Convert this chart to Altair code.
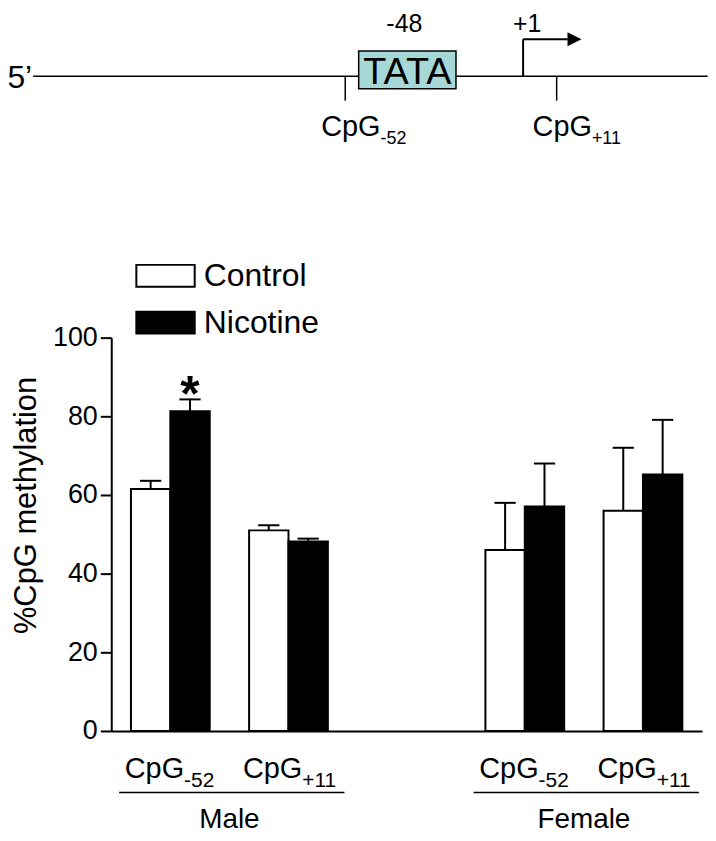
import altair as alt
import pandas as pd

# ---------------- data ----------------
sexes = ["Male", "Female"]
sites = ["-52", "+11"]
treatments = ["Control", "Nicotine"]
# order: Male -52 (C, N), Male +11 (C, N), Female -52 (C, N), Female +11 (C, N)
means = [61.5, 81.3, 51.0, 48.2, 46.0, 57.1, 56.0, 65.2]
errors = [2.1, 3.0, 1.3, 0.7, 12.0, 10.9, 16.0, 13.9]
signif = ["", "*", "", "", "", "", "", ""]

# promoter diagram (positions in bp relative to transcription start)
cpg_sites = [-52, 11]
cpg_subs = ["-52", "+11"]
tata_start, tata_end = -48, -19
tss = 1
tss_label = "+1"
tata_label = "-48"
seq_start, seq_end = -145, 56

FONT = "Liberation Sans"

# ---------------- layout helpers ----------------
W, H = 593.3, 395
SEX_STEP, SITE_STEP, LEFT = 9, 3, 0.5

rows = []
i = 0
for si, sex in enumerate(sexes):
    for ci, site in enumerate(sites):
        for ti, tr in enumerate(treatments):
            x0 = LEFT + si * SEX_STEP + ci * SITE_STEP + ti
            rows.append(dict(sex=sex, site=site, treatment=tr, mean=means[i],
                             top=means[i] + errors[i], x0=x0, x1=x0 + 1,
                             xc=x0 + 0.5, cap0=x0 + 0.5 - 0.27, cap1=x0 + 0.5 + 0.27,
                             mark=signif[i]))
            i += 1
df = pd.DataFrame(rows)

lab_rows = []
for si, sex in enumerate(sexes):
    for ci, site in enumerate(sites):
        c = LEFT + si * SEX_STEP + ci * SITE_STEP + 1.0
        lab_rows.append(dict(split=c + 0.35, main="CpG", sub=site))
labs = pd.DataFrame(lab_rows)

sex_rows = []
for si, sex in enumerate(sexes):
    s = LEFT + si * SEX_STEP
    sex_rows.append(dict(sex=sex, u0=s - 0.3, u1=s + 5.42, c=s + 2.5))
sexdf = pd.DataFrame(sex_rows)

xs = alt.Scale(domain=[0, 15], nice=False, zero=False)
ys = alt.Scale(domain=[0, 100], nice=False)

bars = alt.Chart(df).mark_rect(stroke="black", strokeWidth=2).encode(
    x=alt.X("x0:Q", scale=xs, axis=alt.Axis(title=None, labels=False, ticks=False,
                                            grid=False, domainColor="black", domainWidth=2)),
    x2="x1:Q",
    y=alt.Y("mean:Q", scale=ys, axis=alt.Axis(
        title="%CpG methylation", values=[0, 20, 40, 60, 80, 100], grid=False,
        tickSize=11, tickWidth=2, tickColor="black", domainColor="black", domainWidth=2,
        labelFont=FONT, labelFontSize=27, labelColor="black", labelPadding=3,
        titleFont=FONT, titleFontSize=31, titleFontWeight="normal", titleColor="black",
        titleX=-85, titleY=168, titleAngle=270, titleAlign="center", titleBaseline="middle")),
    y2=alt.datum(0),
    fill=alt.Fill("treatment:N", scale=alt.Scale(domain=treatments, range=["white", "black"]),
                  legend=alt.Legend(title=None, orient="none", legendX=24, legendY=-92.6,
                                    symbolType="M-1,-0.375H1V0.375H-1Z", symbolSize=3434,
                                    symbolStrokeColor="black", symbolStrokeWidth=2,
                                    symbolOpacity=1, labelFont=FONT, labelFontSize=32,
                                    labelColor="black", labelOffset=8, rowPadding=-15,
                                    padding=0)),
)

err = alt.Chart(df).mark_rule(color="black", strokeWidth=2).encode(
    x="xc:Q", y="mean:Q", y2="top:Q")
caps = alt.Chart(df).mark_rule(color="black", strokeWidth=2).encode(
    x="cap0:Q", x2="cap1:Q", y="top:Q")
star = alt.Chart(df).transform_filter("datum.mark != ''").mark_text(
    font=FONT, fontSize=50, fontWeight="bold", baseline="alphabetic", color="black",
    dy=12).encode(
    x="xc:Q", y="top:Q", text="mark:N")

lab_main = alt.Chart(labs).mark_text(font=FONT, fontSize=29, align="right",
                                     baseline="alphabetic", color="black").encode(
    x="split:Q", y=alt.value(442.7), text="main:N")
lab_sub = alt.Chart(labs).mark_text(font=FONT, fontSize=21, align="left",
                                    baseline="alphabetic", color="black").encode(
    x="split:Q", y=alt.value(451), text="sub:N")
under = alt.Chart(sexdf).mark_rule(color="black", strokeWidth=1.5).encode(
    x="u0:Q", x2="u1:Q", y=alt.value(456.7))
sexlab = alt.Chart(sexdf).mark_text(font=FONT, fontSize=28, baseline="alphabetic",
                                    color="black").encode(
    x="c:Q", y=alt.value(492), text="sex:N")

plot = alt.layer(bars, err, caps, star, lab_main, lab_sub, under, sexlab)

# ---------------- promoter diagram ----------------
bp = alt.Scale(domain=[-121.73, 54.32], nice=False, zero=False)
LINE_Y = -262.6
NUM_Y = -306.5

seq = pd.DataFrame(dict(s=[seq_start], e=[seq_end], lab=["5\u2019"]))
cpg = pd.DataFrame(dict(pos=cpg_sites, split=[p + 10.5 for p in cpg_sites],
                        main=["CpG"] * 2, sub=cpg_subs))
tata = pd.DataFrame(dict(s=[tata_start], e=[tata_end], c=[(tata_start + tata_end) / 2],
                         t=["TATA"], num=[tata_label]))
tssdf = pd.DataFrame(dict(p=[tss], end=[tss + 13.3], head=[tss + 15.3], lab=[tss_label]))

dna = alt.Chart(seq).mark_rule(color="black", strokeWidth=1.5).encode(
    x=alt.X("s:Q", scale=bp, axis=None), x2="e:Q", y=alt.value(LINE_Y))
five = alt.Chart(seq).mark_text(font=FONT, fontSize=32, align="right", baseline="alphabetic",
                                color="black", dx=-1).encode(
    x=alt.X("s:Q", scale=bp, axis=None), y=alt.value(-250.3), text="lab:N")
ticks = alt.Chart(cpg).mark_rule(color="black", strokeWidth=1.5).encode(
    x=alt.X("pos:Q", scale=bp, axis=None), y=alt.value(LINE_Y), y2=alt.value(-238))
cmain = alt.Chart(cpg).mark_text(font=FONT, fontSize=29, align="right", baseline="alphabetic",
                                 color="black").encode(
    x=alt.X("split:Q", scale=bp, axis=None), y=alt.value(-202.3), text="main:N")
csub = alt.Chart(cpg).mark_text(font=FONT, fontSize=18, align="left", baseline="alphabetic",
                                color="black").encode(
    x=alt.X("split:Q", scale=bp, axis=None), y=alt.value(-194.3), text="sub:N")
box = alt.Chart(tata).mark_rect(fill="#a6d8d8", stroke="black", strokeWidth=1.5).encode(
    x=alt.X("s:Q", scale=bp, axis=None), x2="e:Q", y=alt.value(-288), y2=alt.value(-250))
boxt = alt.Chart(tata).mark_text(font=FONT, fontSize=38, baseline="alphabetic",
                                 color="black").encode(
    x=alt.X("c:Q", scale=bp, axis=None), y=alt.value(-254.6), text="t:N")
boxn = alt.Chart(tata).mark_text(font=FONT, fontSize=25, baseline="alphabetic",
                                 color="black", dx=-3).encode(
    x=alt.X("c:Q", scale=bp, axis=None), y=alt.value(NUM_Y), text="num:N")
av = alt.Chart(tssdf).mark_rule(color="black", strokeWidth=2).encode(
    x=alt.X("p:Q", scale=bp, axis=None), y=alt.value(LINE_Y), y2=alt.value(-299.6))
ah = alt.Chart(tssdf).mark_rule(color="black", strokeWidth=2).encode(
    x=alt.X("p:Q", scale=bp, axis=None), x2="end:Q", y=alt.value(-299.6))
head = alt.Chart(tssdf).mark_point(shape="M-1,-1L1,0L-1,1Z", size=196, filled=True,
                                   color="black", opacity=1).encode(
    x=alt.X("head:Q", scale=bp, axis=None), y=alt.value(-299.6))
tsst = alt.Chart(tssdf).mark_text(font=FONT, fontSize=25, baseline="alphabetic",
                                  color="black", dx=4).encode(
    x=alt.X("p:Q", scale=bp, axis=None), y=alt.value(NUM_Y), text="lab:N")

diagram = alt.layer(dna, five, ticks, cmain, csub, box, boxt, boxn, av, ah, head, tsst)

chart = alt.layer(plot, diagram).resolve_scale(x="independent").properties(
    width=W, height=H,
    autosize=alt.AutoSizeParams(type="none"),
    padding={"left": 103.7, "top": 329.3, "right": 6, "bottom": 100},
).configure_view(stroke=None)

chart.save("out.html", embed_options={"renderer": "svg", "actions": False})
